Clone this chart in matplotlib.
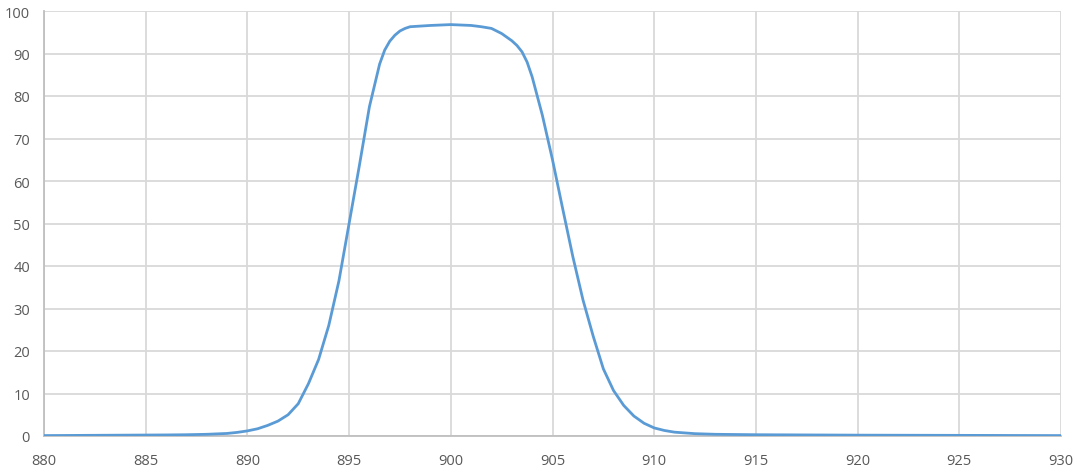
import matplotlib.pyplot as plt

# Transmission curve (wavelength nm, transmission %)
wavelength = [880, 882, 884, 886, 887, 888, 889, 889.5, 890, 890.5, 891, 891.5,
              892, 892.5, 893, 893.5, 894, 894.5, 895, 895.5, 896, 896.5,
              896.75, 897, 897.25, 897.5, 897.75, 898, 899, 900, 901, 901.5,
              902, 902.5, 903, 903.25, 903.5, 903.75, 904, 904.5, 905, 905.5,
              906, 906.5, 907, 907.5, 908, 908.5, 909, 909.5, 910, 910.5, 911,
              912, 913, 915, 920, 925, 930]
transmission = [0.1, 0.15, 0.2, 0.25, 0.3, 0.4, 0.6, 0.85, 1.2, 1.7, 2.5, 3.5,
                5.0, 7.6, 12.3, 18.0, 26.0, 36.5, 50.0, 63.5, 77.5, 87.5,
                90.8, 92.9, 94.3, 95.3, 95.9, 96.3, 96.6, 96.8, 96.6, 96.3,
                95.9, 94.7, 93.0, 91.9, 90.4, 88.0, 84.5, 75.5, 65.0, 53.5,
                42.2, 32.0, 23.5, 15.8, 10.7, 7.2, 4.7, 3.0, 1.9, 1.3, 0.9,
                0.55, 0.4, 0.3, 0.2, 0.15, 0.1]

x_ticks = list(range(880, 931, 5))
y_ticks = list(range(0, 101, 10))

plt.rcParams['font.family'] = ['Open Sans', 'DejaVu Sans']

fig = plt.figure(figsize=(10.81, 4.77), dpi=100)
ax = fig.add_axes([44 / 1081, 40 / 477, 1017 / 1081, 425 / 477])

ax.plot(wavelength, transmission, color='#5B9BD5', linewidth=2.0,
        solid_joinstyle='round', zorder=3)

ax.set_xlim(880, 930)
ax.set_ylim(0, 100)
ax.set_xticks(x_ticks)
ax.set_yticks(y_ticks)
ax.grid(True, color='#d9d9d9', linewidth=1.3)
ax.set_axisbelow(True)

for side in ['top', 'right']:
    ax.spines[side].set_visible(False)
for side in ['left', 'bottom']:
    ax.spines[side].set_color('#bfbfbf')
    ax.spines[side].set_linewidth(1.3)

ax.tick_params(length=0, labelsize=10.5, labelcolor='#595959')
ax.tick_params(axis='x', pad=12)
ax.tick_params(axis='y', pad=10)

fig.savefig('out.png', dpi=100)
